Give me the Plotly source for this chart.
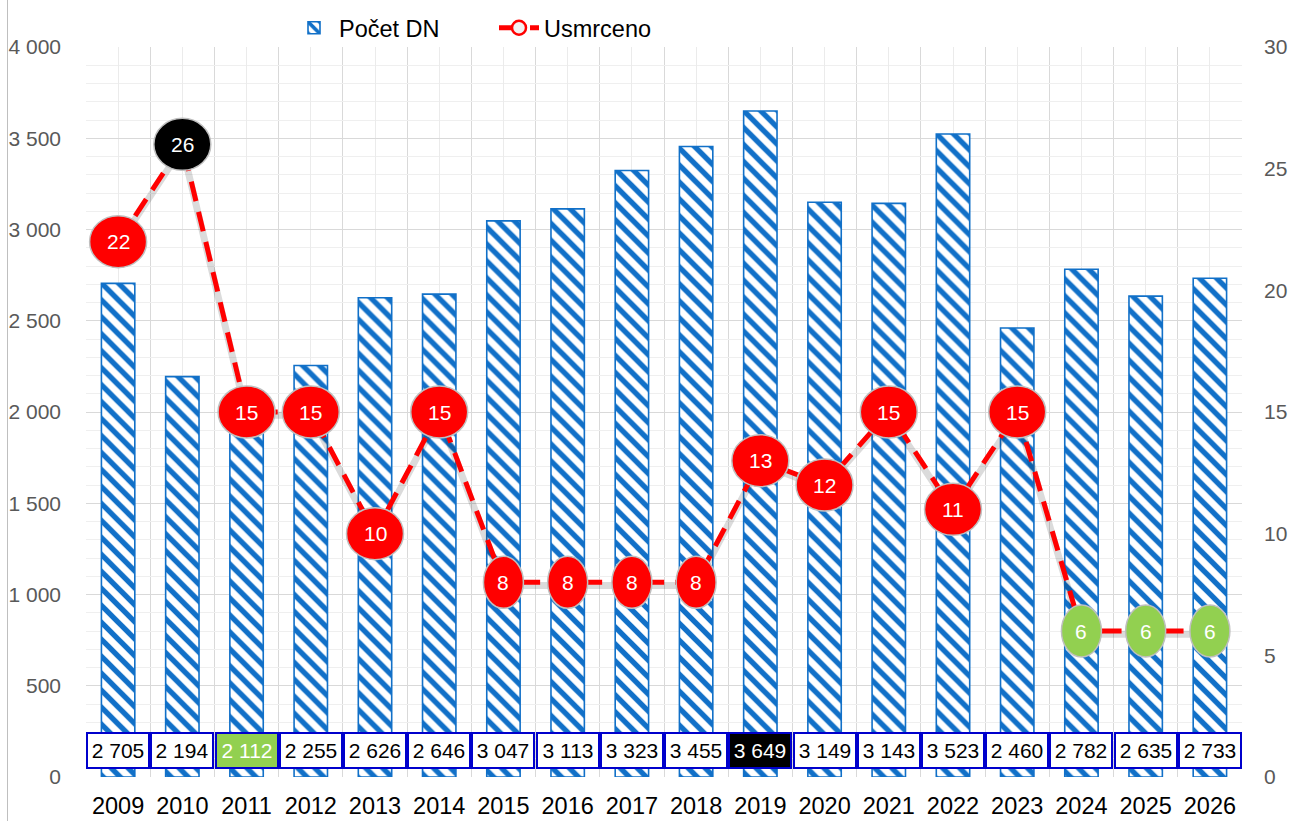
import plotly.graph_objects as go

# ---- data ----
years = [2009, 2010, 2011, 2012, 2013, 2014, 2015, 2016, 2017, 2018,
         2019, 2020, 2021, 2022, 2023, 2024, 2025, 2026]
pocet_dn = [2705, 2194, 2112, 2255, 2626, 2646, 3047, 3113, 3323, 3455,
            3649, 3149, 3143, 3523, 2460, 2782, 2635, 2733]
usmrceno = [22, 26, 15, 15, 10, 15, 8, 8, 8, 8,
            13, 12, 15, 11, 15, 6, 6, 6]

# highlighted points
bar_highlight = {2011: "#92D050", 2019: "#000000"}
dot_highlight = {2010: "#000000", 2024: "#92D050", 2025: "#92D050", 2026: "#92D050"}

BLUE = "#1170C8"
STRIPE = "#1170C8"
RED = "#FF0000"
GRAY_TXT = "#595959"
FONT = "Liberation Sans, Arial, sans-serif"

W, H = 1290, 821
ML, MR, MT, MB = 86, 48, 47, 44

fig = go.Figure()

fig.add_trace(go.Bar(
    x=years, y=pocet_dn, name="Počet DN", width=0.52, yaxis="y",
    marker=dict(color="white", line=dict(color=BLUE, width=1.6),
                pattern=dict(shape="\\", fgcolor=STRIPE, bgcolor="white",
                             fgopacity=1, size=12, solidity=0.45)),
))

# soft shadow of the line (drawn on a slightly shifted hidden axis)
fig.add_trace(go.Scatter(
    x=years, y=usmrceno, yaxis="y2", mode="lines", showlegend=False,
    line=dict(color="rgba(0,0,0,0.14)", width=7), hoverinfo="skip",
))

fig.add_trace(go.Scatter(
    x=years, y=usmrceno, name="Usmrceno", yaxis="y3", mode="lines+markers",
    line=dict(color=RED, width=5, dash="20px,11px"),
    marker=dict(size=14, color="#F2F2F2", line=dict(color=RED, width=2.5)),
))

shapes = []
annotations = []

# bar value boxes at the bottom
for yr, v in zip(years, pocet_dn):
    bg = bar_highlight.get(yr, "white")
    fc = "white" if yr in bar_highlight else "black"
    annotations.append(dict(
        x=yr, xref="x", y=0.0363, yref="paper", yanchor="middle",
        text=f"{v:,}".replace(",", " "), showarrow=False,
        width=60, height=33, borderpad=0, borderwidth=2,
        bordercolor="#0000CC", bgcolor=bg,
        font=dict(size=21, color=fc, family=FONT),
    ))

# ellipse data labels for the line
for yr, v in zip(years, usmrceno):
    fill = dot_highlight.get(yr, RED)
    w = 57 if v >= 10 else 40
    shapes.append(dict(
        type="circle", layer="above", xref="x", yref="y3",
        xsizemode="pixel", ysizemode="pixel", xanchor=yr, yanchor=v,
        x0=-w / 2, x1=w / 2, y0=-26, y1=26,
        fillcolor=fill, line=dict(color="#BFBFBF", width=1.5),
    ))
    annotations.append(dict(
        x=yr, xref="x", y=v, yref="y3", text=str(v), showarrow=False,
        font=dict(size=21, color="white", family=FONT),
    ))

# chart border line on the left
pw = W - ML - MR
shapes.append(dict(type="line", xref="paper", yref="paper",
                   x0=-(ML - 7.5) / pw, x1=-(ML - 7.5) / pw, y0=-0.07, y1=1.07,
                   line=dict(color="#BFBFBF", width=1)))

fig.update_layout(
    width=W, height=H,
    margin=dict(l=ML, r=MR, t=MT, b=MB, autoexpand=False),
    paper_bgcolor="white", plot_bgcolor="white",
    separators=", ",
    font=dict(family=FONT, color="black"),
    xaxis=dict(
        range=[2008.5, 2026.5], tickmode="linear", tick0=2009, dtick=1,
        tickformat="d", showgrid=True, gridcolor="#EBEBEB", gridwidth=1,
        minor=dict(tick0=2008.5, dtick=1, showgrid=True, gridcolor="#D9D9D9",
                   gridwidth=1),
        ticks="", zeroline=False, showline=False, automargin=False,
        tickfont=dict(size=23.5, color="black", family=FONT),
        ticklabelstandoff=12,
    ),
    yaxis=dict(
        range=[0, 4000], dtick=500, tickformat=",d",
        showgrid=True, gridcolor="#D9D9D9", gridwidth=1,
        minor=dict(dtick=100, showgrid=True, gridcolor="#EFEFEF", gridwidth=1),
        zeroline=False, showline=False, ticks="", automargin=False,
        tickfont=dict(size=21, color=GRAY_TXT, family=FONT),
        ticklabelstandoff=24,
    ),
    yaxis2=dict(overlaying="y", range=[0.13, 30.13], visible=False),
    yaxis3=dict(
        overlaying="y", side="right", range=[0, 30], dtick=5,
        showgrid=False, zeroline=False, showline=False, ticks="",
        automargin=False,
        tickfont=dict(size=21, color=GRAY_TXT, family=FONT),
        ticklabelstandoff=21,
    ),
    legend=dict(
        orientation="h", xref="container", yref="container",
        x=289 / W, xanchor="left", y=1 - 28 / H, yanchor="middle",
        font=dict(size=23.5, color="black", family=FONT),
        bgcolor="rgba(0,0,0,0)", itemwidth=40,
        entrywidth=150, entrywidthmode="pixels",
    ),
    shapes=shapes,
    annotations=annotations,
    showlegend=True,
)

fig.write_html(
    "out.html",
    config={"displayModeBar": False},
    post_script="document.body.style.margin='0';document.body.style.overflow='hidden';",
)
